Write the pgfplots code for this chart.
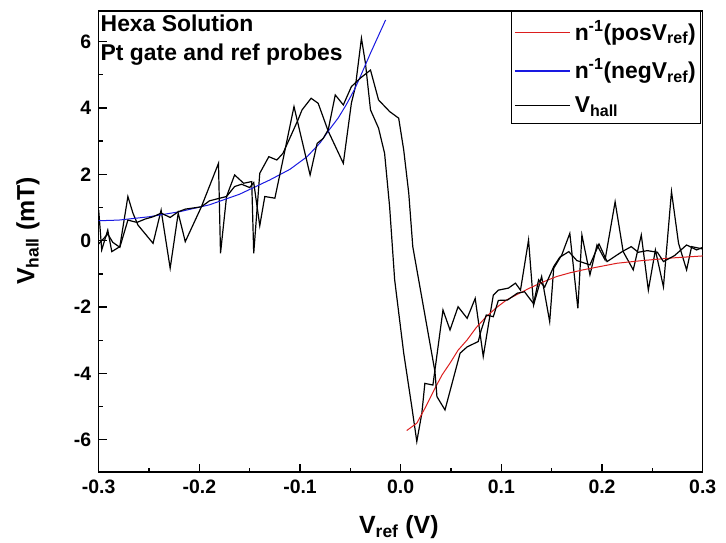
\documentclass[border=0pt]{standalone}
\usepackage{pgfplots}
\pgfplotsset{compat=1.18}
\usepackage{fontspec}
\setmainfont{Liberation Sans}
\definecolor{fitred}{RGB}{220,30,30}
\definecolor{fitblue}{RGB}{25,25,225}
\newcommand{\legline}[1]{\textcolor{#1}{\rule[7bp]{55bp}{1.4bp}}\hspace{5bp}}

\pgfplotstableread{
x y
-0.300 0.92
-0.297 -0.28
-0.291 0.32
-0.287 -0.33
-0.279 -0.18
-0.271 1.33
-0.266 0.83
-0.261 0.47
-0.246 -0.08
-0.238 0.92
-0.229 -0.83
-0.221 0.83
-0.214 -0.03
-0.198 1.02
-0.181 2.33
-0.179 -0.38
-0.173 1.33
-0.165 1.98
-0.156 1.73
-0.148 1.78
-0.146 -0.38
-0.140 2.03
-0.131 2.53
-0.123 2.43
-0.117 2.63
-0.110 3.10
-0.102 3.64
-0.098 3.94
-0.089 4.29
-0.082 4.14
-0.072 3.30
-0.057 2.33
-0.049 4.14
-0.045 4.64
-0.039 6.10
-0.035 5.34
-0.030 3.94
-0.022 3.39
-0.016 2.63
-0.011 1.02
-0.006 -1.18
0.003 -3.39
0.011 -5.00
0.016 -6.05
0.021 -5.20
0.024 -4.30
0.032 -4.35
0.034 -3.90
0.042 -2.09
0.049 -2.69
0.057 -1.99
0.066 -2.34
0.074 -1.74
0.082 -3.49
0.089 -2.19
0.092 -1.64
0.097 -1.49
0.107 -1.43
0.114 -1.28
0.119 -1.49
0.127 0.02
0.132 -1.94
0.140 -1.08
0.148 -2.44
0.152 -0.83
0.160 -0.43
0.168 0.22
0.176 -2.04
0.180 0.17
0.188 -1.03
0.195 -0.13
0.203 -0.58
0.213 1.17
0.221 -0.33
0.231 -0.88
0.239 0.17
0.246 -1.49
0.253 -0.28
0.261 -1.39
0.269 1.48
0.276 -0.08
0.284 -0.88
0.289 -0.18
0.300 -0.25
}\traceA

\pgfplotstableread{
x y
-0.300 -0.10
-0.297 0.00
-0.291 0.20
-0.286 -0.05
-0.279 -0.20
-0.271 0.62
-0.262 0.55
-0.254 0.65
-0.246 0.72
-0.238 0.83
-0.229 0.70
-0.221 0.87
-0.214 0.95
-0.198 1.02
-0.190 1.20
-0.173 1.33
-0.165 1.63
-0.158 1.70
-0.150 1.60
-0.146 1.75
-0.140 0.45
-0.135 1.33
-0.125 1.28
-0.117 2.43
-0.106 4.04
-0.090 1.98
-0.083 2.93
-0.077 3.08
-0.072 3.34
-0.065 4.39
-0.057 4.09
-0.049 4.64
-0.040 4.90
-0.030 5.14
-0.022 4.24
-0.011 3.89
-0.002 3.69
0.003 2.73
0.008 1.43
0.012 -0.18
0.022 -1.89
0.034 -3.94
0.036 -4.70
0.044 -5.10
0.059 -3.39
0.066 -3.20
0.077 -3.04
0.080 -2.69
0.085 -2.24
0.092 -2.29
0.097 -1.80
0.106 -1.79
0.116 -1.58
0.123 -1.54
0.132 -1.90
0.137 -1.18
0.143 -1.40
0.152 -0.78
0.158 -0.50
0.167 -0.33
0.175 -0.60
0.188 -0.73
0.197 -0.10
0.205 -0.63
0.220 -0.33
0.229 -0.18
0.236 -0.35
0.245 -0.30
0.255 -0.35
0.261 -0.63
0.272 -0.45
0.284 -0.13
0.294 -0.28
0.300 -0.20
}\traceB

\pgfplotstableread{
x y
-0.300 0.60
-0.280 0.62
-0.250 0.72
-0.220 0.87
-0.190 1.08
-0.160 1.40
-0.130 1.83
-0.110 2.15
-0.093 2.53
-0.080 2.95
-0.072 3.30
-0.062 3.70
-0.054 4.10
-0.046 4.55
-0.040 4.95
-0.035 5.30
-0.030 5.65
-0.024 6.05
-0.015 6.65
}\fitneg

\pgfplotstableread{
x y
0.006 -5.72
0.016 -5.50
0.025 -5.00
0.034 -4.45
0.041 -4.05
0.049 -3.69
0.057 -3.30
0.066 -2.99
0.075 -2.62
0.085 -2.29
0.095 -2.02
0.105 -1.79
0.117 -1.60
0.128 -1.43
0.141 -1.25
0.155 -1.08
0.168 -0.97
0.181 -0.88
0.198 -0.78
0.215 -0.68
0.240 -0.60
0.270 -0.52
0.300 -0.46
}\fitpos

\begin{document}
\begin{tikzpicture}
\begin{axis}[
  scale only axis, width=604bp, height=461bp,
  xmin=-0.3, xmax=0.3, ymin=-6.97, ymax=6.92,
  xtick={-0.3,-0.2,-0.1,0,0.1,0.2,0.3},
  minor xtick={-0.25,-0.15,-0.05,0.05,0.15,0.25},
  ytick={-6,-4,-2,0,2,4,6},
  minor ytick={-5,-3,-1,1,3,5},
  tick align=inside, xtick pos=bottom, ytick pos=left,
  major tick length=8bp, minor tick length=4.5bp,
  every tick/.style={black, line width=1.3bp},
  axis line style={line width=1.5bp},
  xticklabel style={/pgf/number format/fixed, /pgf/number format/fixed zerofill, /pgf/number format/precision=1, /pgf/number format/assume math mode=true, yshift=-4.5bp},
  yticklabel style={/pgf/number format/assume math mode=true, xshift=-4bp},
  ticklabel style={font=\bfseries\fontsize{19.5}{19.5}\selectfont},
  xlabel={V\textsubscript{ref} (V)},
  ylabel={V\textsubscript{hall} (mT)},
  label style={font=\bfseries\fontsize{25}{25}\selectfont},
  xlabel style={at={(axis description cs:0.497,-0.119)}, anchor=center},
  ylabel style={at={(axis description cs:-0.117,0.523)}, anchor=center},
  legend image code/.code={},
  legend style={at={(axis description cs:0.9955,1.0)}, anchor=north east,
    font=\bfseries\fontsize{23}{23}\selectfont,
    row sep=13bp, inner xsep=2bp, inner ysep=7bp, cells={anchor=west},
    /tikz/every even column/.append style={column sep=0pt}},
  clip=true,
]
\addplot[draw=black, line width=1.2bp, forget plot] table[x=x,y=y] {\traceA};
\addplot[draw=fitred, line width=1bp] table[x=x,y=y] {\fitpos};
\addlegendentry{\legline{fitred}n\textsuperscript{-1}(posV\textsubscript{ref})}
\addplot[draw=fitblue, line width=1bp] table[x=x,y=y] {\fitneg};
\addlegendentry{\legline{fitblue}n\textsuperscript{-1}(negV\textsubscript{ref})}
\addplot[draw=black, line width=1.2bp] table[x=x,y=y] {\traceB};
\addlegendentry{\legline{black}V\textsubscript{hall}}
\node[anchor=base west, font=\bfseries\fontsize{23}{23}\selectfont, inner sep=0pt] at (axis description cs:0.003,0.955) {Hexa Solution};
\node[anchor=base west, font=\bfseries\fontsize{23}{23}\selectfont, inner sep=0pt] at (axis description cs:0.003,0.892) {Pt gate and ref probes};
\end{axis}
\path (current axis.south west) ++(-98.7bp,-71bp) rectangle ++(726bp,543bp);
\end{tikzpicture}
\end{document}
